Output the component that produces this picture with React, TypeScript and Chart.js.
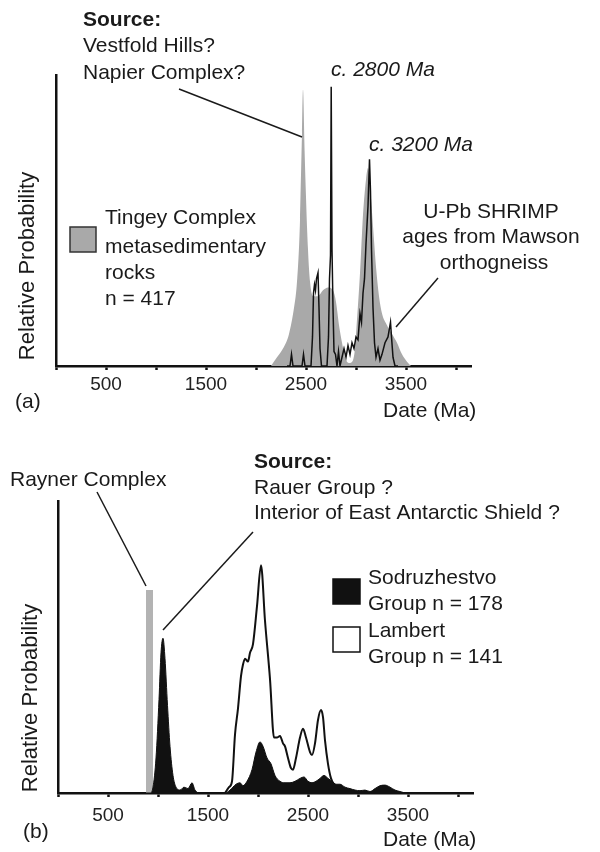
import React, { useEffect, useRef } from 'react';
import { Chart, registerables } from 'chart.js';

Chart.register(...registerables);

const FONT = "'Liberation Sans', Arial, Helvetica, sans-serif";

// ---------- shared axis ----------
const xMin = 0;
const xMax = 4150;
const tickValues = [0, 500, 1000, 1500, 2000, 2500, 3000, 3500, 4000];
const labeledTicks = [500, 1500, 2500, 3500];

// ---------- panel (a) ----------
const tingeyAge = [2150, 2210, 2270, 2330, 2380, 2410, 2440, 2460, 2470, 2485, 2500, 2520, 2540, 2570, 2620, 2670, 2720, 2770, 2800, 2830, 2860, 2890, 2930, 2970, 2990, 3010, 3040, 3070, 3100, 3120, 3140, 3170, 3200, 3230, 3260, 3310, 3360, 3410, 3460, 3510, 3550];
const tingeyProb = [0, 3, 6, 11, 20, 29, 50, 80, 95, 75, 58, 40, 29, 24, 24, 26, 27, 26, 22, 14, 8, 3, 1, 2, 6, 16, 32, 52, 64, 68, 62, 48, 34, 24, 18, 14, 11, 8, 4, 1.5, 0];

const mawsonAge = [2310, 2340, 2355, 2370, 2460, 2475, 2490, 2550, 2565, 2575, 2585, 2595, 2605, 2620, 2630, 2640, 2655, 2710, 2725, 2735, 2745, 2752, 2760, 2770, 2780, 2795, 2810, 2825, 2840, 2860, 2880, 2900, 2920, 2940, 2960, 2980, 3000, 3020, 3040, 3055, 3070, 3085, 3100, 3120, 3135, 3145, 3155, 3170, 3185, 3200, 3220, 3240, 3260, 3290, 3320, 3345, 3355, 3370, 3390, 3420];
const mawsonProb = [0, 0, 4, 0, 0, 4, 0, 0, 10, 25, 28, 26, 30, 32, 20, 6, 0, 0, 10, 30, 38, 96, 40, 20, 5, 4, 0, 5, 0, 3, 6, 3, 7, 4, 8, 6, 10, 9, 18, 15, 25, 30, 42, 55, 71, 60, 40, 20, 8, 3, 6, 2, 4, 8, 10, 15, 10, 3, 0, 0];

// ---------- panel (b) ----------
const raynerRange = [880, 950];
const raynerProb = 69.5;

const sodAge = [820, 920, 950, 980, 1010, 1030, 1050, 1070, 1095, 1120, 1150, 1180, 1220, 1260, 1300, 1340, 1370, 1420, 1670, 1720, 1780, 1820, 1850, 1890, 1940, 1980, 2020, 2050, 2090, 2130, 2170, 2220, 2270, 2320, 2370, 2420, 2460, 2500, 2540, 2580, 2620, 2660, 2700, 2740, 2780, 2820, 2870, 2920, 2970, 3020, 3070, 3120, 3170, 3220, 3270, 3320, 3370, 3420, 3470];
const sodProb = [0, 0, 2, 12, 32, 48, 53, 46, 30, 16, 6, 2, 1, 2, 1.5, 3.5, 1, 0, 0, 1, 3, 3.5, 2.5, 4, 8, 14, 17.5, 16, 12, 10, 6, 4, 3.5, 3.5, 4, 5, 5.5, 4, 3.5, 4, 5, 6, 5, 4, 3, 3, 2, 1.5, 1, 0.8, 1, 0.5, 1.5, 2.5, 2.7, 2, 1, 0.5, 0];

const lambAge = [1670, 1710, 1740, 1770, 1800, 1830, 1850, 1870, 1900, 1920, 1950, 1990, 2030, 2070, 2120, 2160, 2190, 2220, 2250, 2270, 2300, 2330, 2350, 2380, 2420, 2450, 2480, 2520, 2540, 2570, 2600, 2630, 2650, 2670, 2700, 2730, 2760, 2800, 2850, 2900];
const lambProb = [0, 2, 4, 20, 29, 40, 44, 46, 45, 48, 51, 64, 78, 59, 39, 19, 19, 19.5, 17, 16, 12, 8.5, 8, 12, 19, 22, 19, 14, 13, 17, 25, 28.4, 26, 18, 10, 5, 3, 2, 1, 0];

type Txt = { t: string; x: number; y: number; size?: number; bold?: boolean; italic?: boolean; align?: CanvasTextAlign; rot?: boolean };
type Seg = [number, number, number, number];
type Box = { x: number; y: number; w: number; h: number; fill: string; stroke: string };

function annotPlugin(texts: Txt[], segs: Seg[], boxes: Box[]) {
  return {
    id: 'annot',
    afterDraw(chart: any) {
      const ctx: CanvasRenderingContext2D = chart.ctx;
      ctx.save();
      ctx.strokeStyle = '#1a1a1a';
      ctx.lineWidth = 1.5;
      for (const s of segs) {
        ctx.beginPath();
        ctx.moveTo(s[0], s[1]);
        ctx.lineTo(s[2], s[3]);
        ctx.stroke();
      }
      for (const b of boxes) {
        ctx.fillStyle = b.fill;
        ctx.fillRect(b.x, b.y, b.w, b.h);
        ctx.strokeStyle = b.stroke;
        ctx.lineWidth = 1.5;
        ctx.strokeRect(b.x, b.y, b.w, b.h);
      }
      ctx.fillStyle = '#1a1a1a';
      ctx.textBaseline = 'middle';
      for (const t of texts) {
        ctx.font = `${t.italic ? 'italic ' : ''}${t.bold ? 'bold ' : ''}${t.size || 21}px ${FONT}`;
        ctx.textAlign = t.align || 'left';
        if (t.rot) {
          ctx.save();
          ctx.translate(t.x, t.y);
          ctx.rotate(-Math.PI / 2);
          ctx.textAlign = 'center';
          ctx.fillText(t.t, 0, 0);
          ctx.restore();
        } else {
          ctx.fillText(t.t, t.x, t.y);
        }
      }
      ctx.restore();
    },
  };
}

function tickLabel(v: any): string {
  const n = Math.round(Number(v));
  return labeledTicks.indexOf(n) >= 0 ? String(n) : '';
}

function baseOptions(left: number, xAxisHeight: number, labelPad: number) {
  return {
    responsive: false,
    animation: false as const,
    devicePixelRatio: 1,
    layout: { padding: { left, right: 600 - left - 415, top: 75, bottom: 0 } },
    plugins: { legend: { display: false }, tooltip: { enabled: false } },
    elements: { point: { radius: 0 } },
    scales: {
      x: {
        type: 'linear' as const,
        bounds: 'data' as const,
        min: xMin,
        max: xMax,
        afterBuildTicks: (s: any) => { s.ticks = tickValues.map((value) => ({ value })); },
        afterFit: (s: any) => { s.height = xAxisHeight; },
        grid: { display: true, drawOnChartArea: false, drawTicks: true, tickLength: 4, tickWidth: 2.5, color: '#111' },
        border: { display: true, color: '#111', width: 2.5 },
        ticks: {
          display: true,
          autoSkip: false,
          maxRotation: 0,
          minRotation: 0,
          padding: labelPad,
          color: '#222',
          font: { family: FONT, size: 19 },
          callback: (v: any) => tickLabel(v),
        },
      },
      y: {
        min: 0,
        max: 100,
        afterFit: (s: any) => { s.width = 0; },
        grid: { display: true, drawOnChartArea: false, drawTicks: false },
        ticks: { display: false },
        border: { display: true, color: '#111', width: 2.5 },
      },
    },
  };
}

const pts = (xs: number[], ys: number[]) => xs.map((x, i) => ({ x, y: ys[i] }));

export default function App() {
  const refA = useRef<HTMLCanvasElement>(null);
  const refB = useRef<HTMLCanvasElement>(null);

  useEffect(() => {
    document.body.style.margin = '0';
    const textsA: Txt[] = [
      { t: 'Source:', x: 83, y: 20, bold: true },
      { t: 'Vestfold Hills?', x: 83, y: 46 },
      { t: 'Napier Complex?', x: 83, y: 73 },
      { t: 'c. 2800 Ma', x: 331, y: 70, italic: true },
      { t: 'c. 3200 Ma', x: 369, y: 145, italic: true },
      { t: 'Tingey Complex', x: 105, y: 218 },
      { t: 'metasedimentary', x: 105, y: 247 },
      { t: 'rocks', x: 105, y: 273 },
      { t: 'n = 417', x: 105, y: 299 },
      { t: 'U-Pb SHRIMP', x: 491, y: 212, align: 'center' },
      { t: 'ages from Mawson', x: 491, y: 237, align: 'center' },
      { t: 'orthogneiss', x: 494, y: 263, align: 'center' },
      { t: 'Relative Probability', x: 28, y: 266, rot: true, size: 22 },
      { t: 'Date (Ma)', x: 383, y: 411 },
      { t: '(a)', x: 15, y: 402 },
    ];
    const segsA: Seg[] = [[179, 89, 302, 137], [438, 278, 396, 327]];
    const boxesA: Box[] = [{ x: 70, y: 227, w: 26, h: 25, fill: '#a9a9a9', stroke: '#333' }];

    const chartA = new Chart(refA.current!, {
      type: 'line',
      data: {
        datasets: [
          {
            label: 'Mawson orthogneiss',
            data: pts(mawsonAge, mawsonProb),
            borderColor: '#111',
            borderWidth: 1.5,
            fill: false,
            tension: 0,
            order: 0,
          },
          {
            label: 'Tingey Complex',
            data: pts(tingeyAge, tingeyProb),
            borderWidth: 0,
            borderColor: 'rgba(0,0,0,0)',
            backgroundColor: '#a9a9a9',
            fill: 'origin',
            cubicInterpolationMode: 'monotone',
            order: 1,
          },
        ],
      },
      options: baseOptions(56, 60, 3) as any,
      plugins: [annotPlugin(textsA, segsA, boxesA)],
    });

    const textsB: Txt[] = [
      { t: 'Rayner Complex', x: 10, y: 54 },
      { t: 'Source:', x: 254, y: 36, bold: true },
      { t: 'Rauer Group ?', x: 254, y: 62 },
      { t: 'Interior of East Antarctic Shield ?', x: 254, y: 87 },
      { t: 'Sodruzhestvo', x: 368, y: 152 },
      { t: 'Group n = 178', x: 368, y: 178 },
      { t: 'Lambert', x: 368, y: 205 },
      { t: 'Group n = 141', x: 368, y: 231 },
      { t: 'Relative Probability', x: 31, y: 272, rot: true, size: 22 },
      { t: 'Date (Ma)', x: 383, y: 414 },
      { t: '(b)', x: 23, y: 406 },
    ];
    const segsB: Seg[] = [[97, 66, 146, 160], [253, 106, 163, 204]];
    const boxesB: Box[] = [
      { x: 333, y: 153, w: 27, h: 25, fill: '#111', stroke: '#111' },
      { x: 333, y: 201, w: 27, h: 25, fill: '#fff', stroke: '#111' },
    ];

    const raynerPts = [
      { x: raynerRange[0], y: 0 },
      { x: raynerRange[0], y: raynerProb },
      { x: raynerRange[1], y: raynerProb },
      { x: raynerRange[1], y: 0 },
    ];

    const chartB = new Chart(refB.current!, {
      type: 'line',
      data: {
        datasets: [
          {
            label: 'Sodruzhestvo Group',
            data: pts(sodAge, sodProb),
            borderColor: '#111',
            borderWidth: 1,
            backgroundColor: '#111',
            fill: 'origin',
            cubicInterpolationMode: 'monotone',
            order: 0,
          },
          {
            label: 'Lambert Group',
            data: pts(lambAge, lambProb),
            borderColor: '#111',
            borderWidth: 2,
            backgroundColor: '#fff',
            fill: 'origin',
            cubicInterpolationMode: 'monotone',
            order: 1,
          },
          {
            label: 'Rayner Complex',
            data: raynerPts,
            borderWidth: 0,
            borderColor: 'rgba(0,0,0,0)',
            backgroundColor: '#b3b3b3',
            fill: 'origin',
            tension: 0,
            order: 2,
          },
        ],
      },
      options: baseOptions(58, 59, 7) as any,
      plugins: [annotPlugin(textsB, segsB, boxesB)],
    });

    return () => {
      chartA.destroy();
      chartB.destroy();
    };
  }, []);

  return (
    <div style={{ position: 'relative', width: 600, height: 852, background: '#fff' }}>
      <canvas ref={refA} width={600} height={426} style={{ position: 'absolute', left: 0, top: 0, width: 600, height: 426 }} />
      <canvas ref={refB} width={600} height={426} style={{ position: 'absolute', left: 0, top: 426, width: 600, height: 426 }} />
    </div>
  );
}
